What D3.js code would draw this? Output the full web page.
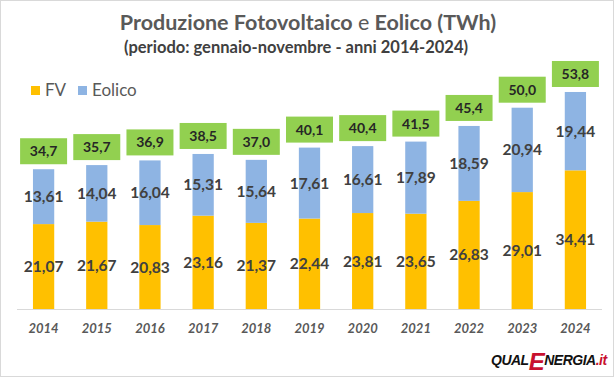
<!DOCTYPE html>
<html>
<head>
<meta charset="utf-8">
<script src="https://cdn.jsdelivr.net/npm/d3@7"></script>
<style>
  body { margin: 0; background: #fff; }
  svg { display: block; font-family: Lato, "Open Sans", sans-serif; }
</style>
</head>
<body>
<div id="chart"></div>
<script>
// data
const years = ["2014", "2015", "2016", "2017", "2018", "2019", "2020", "2021", "2022", "2023", "2024"];
const fv = [21.07, 21.67, 20.83, 23.16, 21.37, 22.44, 23.81, 23.65, 26.83, 29.01, 34.41];
const eolico = [13.61, 14.04, 16.04, 15.31, 15.64, 17.61, 16.61, 17.89, 18.59, 20.94, 19.44];
const totalLabels = ["34,7", "35,7", "36,9", "38,5", "37,0", "40,1", "40,4", "41,5", "45,4", "50,0", "53,8"];

const width = 614, height = 377;
const fmt = v => d3.format(".2f")(v).replace(".", ",");

const svg = d3.select("#chart")
  .append("svg")
  .attr("width", width)
  .attr("height", height);

// outer frame
svg.append("rect")
  .attr("x", 0.5).attr("y", 0.5)
  .attr("width", width - 1).attr("height", height - 1)
  .attr("fill", "#fff")
  .attr("stroke", "#d9d9d9");

const x = d3.scaleBand()
  .domain(years)
  .range([17, 602])
  .paddingInner(0.6)
  .paddingOuter(0.3);

const y = d3.scaleLinear()
  .domain([0, 60])
  .range([309, 309 - 60 * 4.03]);

// title
svg.append("text")
  .attr("x", 308).attr("y", 30)
  .attr("text-anchor", "middle")
  .attr("fill", "#595959")
  .style("font-size", "21.5px")
  .style("font-weight", "bold")
  .text("Produzione Fotovoltaico ")
  .append("tspan").style("font-weight", "normal").text("e")
  .append("tspan").style("font-weight", "bold").text(" Eolico (TWh)");

svg.append("text")
  .attr("x", 296).attr("y", 53)
  .attr("text-anchor", "middle")
  .attr("fill", "#404040")
  .style("font-size", "16.5px")
  .style("font-weight", "bold")
  .text("(periodo: gennaio-novembre - anni 2014-2024)");

// legend
const legendItems = [
  { name: "FV", color: "#ffc000", x: 31 },
  { name: "Eolico", color: "#8eb4e3", x: 78 }
];
const legend = svg.selectAll(".legend")
  .data(legendItems)
  .enter().append("g")
  .attr("class", "legend")
  .attr("transform", d => `translate(${d.x},86)`);
legend.append("rect")
  .attr("width", 9).attr("height", 9)
  .attr("y", 0)
  .attr("fill", d => d.color);
legend.append("text")
  .attr("x", 14).attr("y", 10)
  .attr("fill", "#595959")
  .style("font-size", "17px")
  .text(d => d.name);

// axis baseline
svg.append("line")
  .attr("x1", 17).attr("x2", 602)
  .attr("y1", y(0) + 0.5).attr("y2", y(0) + 0.5)
  .attr("stroke", "#d9d9d9");

const rows = years.map((yr, i) => ({ year: yr, fv: fv[i], eo: eolico[i], total: totalLabels[i] }));

const g = svg.selectAll(".bar")
  .data(rows)
  .enter().append("g")
  .attr("class", "bar");

g.append("rect")
  .attr("x", d => x(d.year))
  .attr("width", x.bandwidth())
  .attr("y", d => y(d.fv))
  .attr("height", d => y(0) - y(d.fv))
  .attr("fill", "#ffc000");

g.append("rect")
  .attr("x", d => x(d.year))
  .attr("width", x.bandwidth())
  .attr("y", d => y(d.fv + d.eo))
  .attr("height", d => y(d.fv) - y(d.fv + d.eo))
  .attr("fill", "#8eb4e3");

const cx = d => x(d.year) + x.bandwidth() / 2;

g.append("text")
  .attr("x", cx)
  .attr("y", d => (y(0) + y(d.fv)) / 2 + 5.5)
  .attr("text-anchor", "middle")
  .attr("fill", "#404040")
  .style("font-size", "15.5px")
  .style("font-weight", "bold")
  .text(d => fmt(d.fv));

g.append("text")
  .attr("x", cx)
  .attr("y", d => (y(d.fv) + y(d.fv + d.eo)) / 2 + 5.5)
  .attr("text-anchor", "middle")
  .attr("fill", "#404040")
  .style("font-size", "15.5px")
  .style("font-weight", "bold")
  .text(d => fmt(d.eo));

// total boxes
g.append("rect")
  .attr("x", d => cx(d) - 23.5)
  .attr("y", d => y(d.fv + d.eo) - 31)
  .attr("width", 47)
  .attr("height", 26)
  .attr("fill", "#92d050");

g.append("text")
  .attr("x", cx)
  .attr("y", d => y(d.fv + d.eo) - 13)
  .attr("text-anchor", "middle")
  .attr("fill", "#262626")
  .style("font-size", "14px")
  .style("font-weight", "bold")
  .text(d => d.total);

// x labels
svg.selectAll(".xlab")
  .data(years)
  .enter().append("text")
  .attr("class", "xlab")
  .attr("x", d => x(d) + x.bandwidth() / 2)
  .attr("y", 333)
  .attr("text-anchor", "middle")
  .attr("fill", "#595959")
  .style("font-size", "13px")
  .style("font-weight", "bold")
  .style("font-style", "italic")
  .text(d => d);

// logo
const logo = svg.append("text")
  .attr("x", 491).attr("y", 365)
  .style("font-family", "'Liberation Sans', Arial, sans-serif")
  .style("font-weight", "bold")
  .style("font-style", "italic")
  .style("letter-spacing", "-0.5px");
logo.append("tspan").attr("fill", "#111").style("font-size", "14px").text("QUAL");
logo.append("tspan").attr("fill", "#c8102e").style("font-size", "24px").attr("dy", 5).text("E");
logo.append("tspan").attr("fill", "#111").style("font-size", "14px").attr("dy", -5).text("NERGIA");
logo.append("tspan").attr("fill", "#c8102e").style("font-size", "14px").text(".it");
</script>
</body>
</html>
